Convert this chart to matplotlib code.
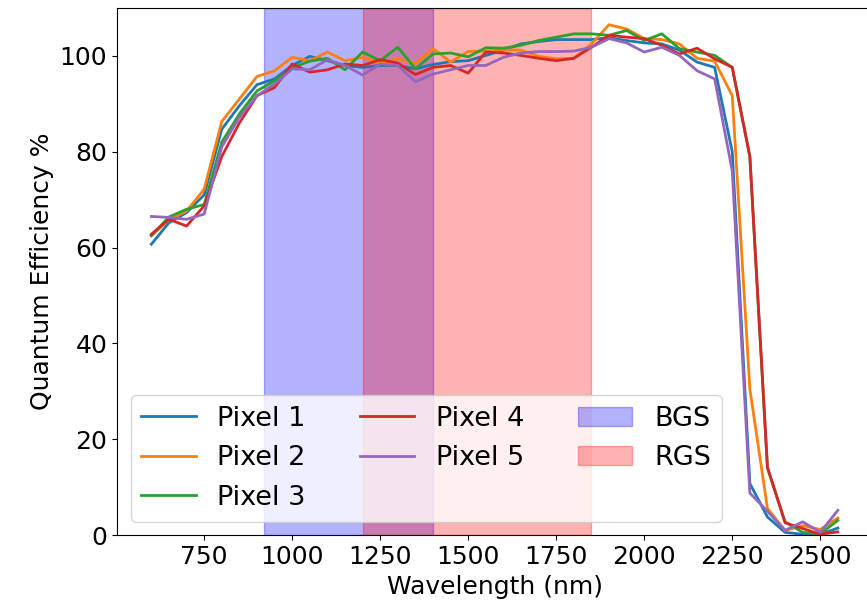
import matplotlib
matplotlib.use('Agg')
import matplotlib.pyplot as plt

plt.rcParams['font.size'] = 18

wavelength = list(range(600, 2551, 50))

pixel_1 = [60.7, 65.2, 67.3, 71.0, 84.7, 89.6, 94.0, 95.2, 98.0, 99.9,
           99.0, 98.0, 97.6, 98.0, 98.0, 97.3, 98.2, 98.8, 99.0, 100.1,
           101.2, 102.5, 103.0, 103.4, 103.4, 103.4, 103.8, 103.2, 102.7, 102.5,
           101.2, 98.7, 97.6, 80.0, 10.8, 3.8, 0.6, 0.2, 0.2, 1.5]
pixel_2 = [62.5, 65.8, 67.6, 72.2, 86.3, 91.0, 95.7, 96.9, 99.7, 99.0,
           100.8, 99.0, 99.7, 98.6, 99.4, 98.4, 101.5, 98.7, 100.9, 101.0,
           101.3, 101.2, 99.9, 99.4, 99.5, 102.5, 106.5, 105.6, 103.6, 103.4,
           102.5, 99.5, 98.9, 91.7, 30.5, 5.6, 1.0, 2.0, 1.2, 3.6]
pixel_3 = [62.5, 66.4, 68.0, 69.0, 82.0, 87.9, 92.7, 94.8, 97.5, 98.9,
           99.5, 97.1, 100.8, 99.0, 101.8, 97.3, 100.4, 100.6, 99.8, 101.7,
           101.6, 102.2, 103.2, 103.9, 104.6, 104.6, 104.3, 105.3, 103.2, 104.6,
           101.5, 100.8, 100.1, 97.6, 79.0, 14.0, 2.8, 0.6, 0.3, 3.1]
pixel_4 = [62.8, 65.9, 64.5, 68.7, 79.0, 86.0, 91.7, 93.4, 98.3, 96.6,
           97.1, 98.3, 98.0, 99.2, 98.5, 96.1, 97.6, 98.0, 96.4, 100.8,
           100.6, 100.1, 99.5, 99.0, 99.5, 101.8, 104.3, 103.9, 103.6, 102.2,
           100.4, 101.6, 99.4, 97.6, 79.0, 14.2, 2.6, 1.4, 0.2, 0.7]
pixel_5 = [66.5, 66.3, 65.9, 67.0, 81.0, 87.2, 91.7, 94.1, 97.3, 97.1,
           99.2, 98.0, 96.0, 98.3, 98.0, 94.6, 96.2, 97.1, 98.0, 98.0,
           99.7, 100.6, 100.9, 100.9, 101.0, 101.8, 103.6, 102.7, 100.8, 101.8,
           100.1, 96.9, 95.2, 76.0, 8.8, 5.0, 1.0, 2.8, 0.6, 5.2]

series = [pixel_1, pixel_2, pixel_3, pixel_4, pixel_5]
labels = ['Pixel 1', 'Pixel 2', 'Pixel 3', 'Pixel 4', 'Pixel 5']

bgs_range = (920, 1400)
rgs_range = (1200, 1850)

fig = plt.figure(figsize=(8.67, 6.11), dpi=100)
ax = fig.add_axes([0.135, 0.124, 0.871, 0.863])

for values, label in zip(series, labels):
    ax.plot(wavelength, values, label=label, lw=2)

ax.axvspan(*bgs_range, color='blue', alpha=0.3, label='BGS')
ax.axvspan(*rgs_range, color='red', alpha=0.3, label='RGS')

ax.set_ylim(0, 110)
ax.set_xlabel('Wavelength (nm)')
ax.set_ylabel('Quantum Efficiency %')
ax.legend(ncol=3, loc='lower left', fontsize=19.5)

plt.savefig('out.png')
